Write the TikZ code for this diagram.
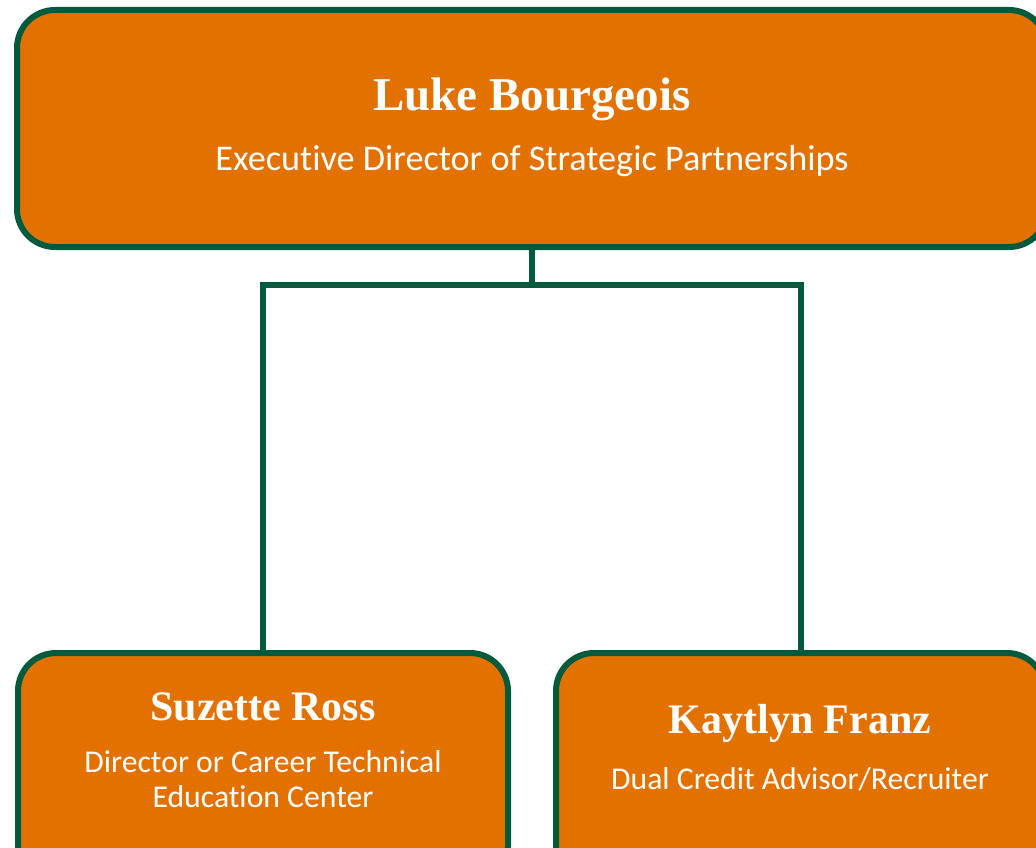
\documentclass[tikz,border=0pt]{standalone}
\usepackage{fontspec}
\setmainfont{Carlito}[RawFeature={-liga;-calt;-dlig;-clig}]
\newfontfamily\namefont{Liberation Serif}
\definecolor{boxorange}{HTML}{E37100}
\definecolor{boxgreen}{HTML}{005A3C}
\begin{document}
\begin{tikzpicture}[x=1pt,y=-1pt,
  orgbox/.style={draw=boxgreen,fill=boxorange,line width=6pt,rounded corners=38pt,inner sep=0pt},
  link/.style={draw=boxgreen,line width=6pt},
  nametext/.style={text=white,font=\namefont\bfseries\fontsize{47}{52}\selectfont,inner sep=0pt},
  roletext/.style={text=white,font=\fontsize{31.7}{35}\selectfont,inner sep=0pt,align=center}]
\useasboundingbox (0,0) rectangle (1036,848);
\clip (0,0) rectangle (1036,848);
\node[orgbox,minimum width=1030pt,minimum height=237pt] (top) at (532,128.5) {};
\node[orgbox,minimum width=490pt,minimum height=232pt] (sl) at (263,769) {};
\node[orgbox,minimum width=489pt,minimum height=232pt] (kf) at (800.5,769) {};
\coordinate (j) at (532,285);
\draw[link] (top.south) -- (j) -| (sl.north);
\draw[link] (j) -| (kf.north);
\node[nametext] (n1) at (532,99) {Luke Bourgeois};
\node[roletext,font=\fontsize{36.2}{40}\selectfont] (r1) at (532,161) {Executive Director of Strategic Partnerships};
\node[nametext,font=\namefont\bfseries\fontsize{42}{48}\selectfont] (n2) at (263,707) {Suzette Ross};
\node[roletext] (r2) at (263,779) {Director or Career Technical\\Education Center};
\node[nametext,font=\namefont\bfseries\fontsize{42}{48}\selectfont] (n3) at (800,723) {Kaytlyn Franz};
\node[roletext] (r3) at (800,779) {Dual Credit Advisor/Recruiter};
\end{tikzpicture}
\end{document}
